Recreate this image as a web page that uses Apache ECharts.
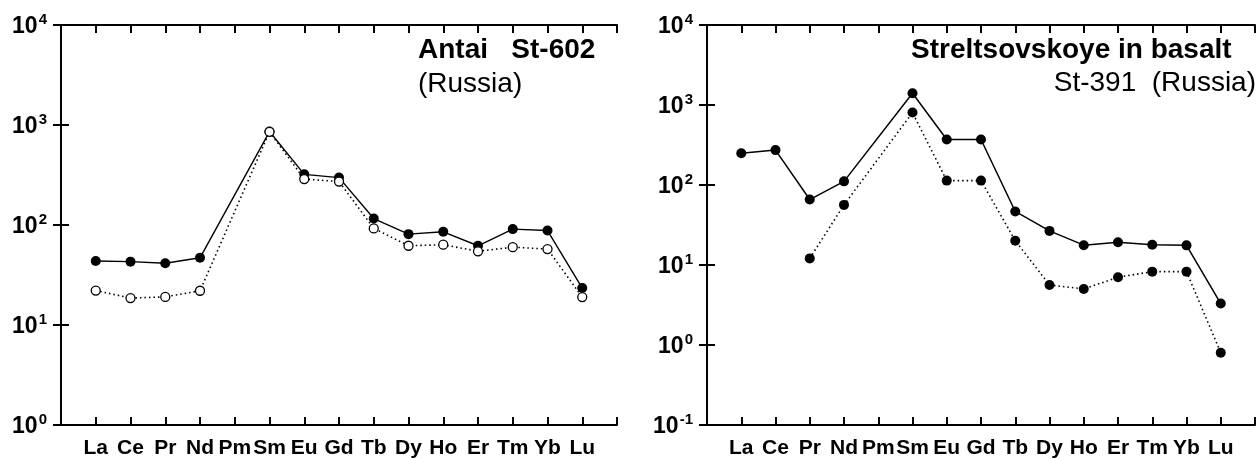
<!DOCTYPE html>
<html>
<head>
<meta charset="utf-8">
<script src="https://cdn.jsdelivr.net/npm/echarts@6/dist/echarts.min.js"></script>
<style>
html,body{margin:0;padding:0;background:#fff;overflow:hidden;}
#c{width:1258px;height:459px;}
</style>
</head>
<body>
<div id="c"></div>
<script>
const elements = ['La','Ce','Pr','Nd','Pm','Sm','Eu','Gd','Tb','Dy','Ho','Er','Tm','Yb','Lu'];
const antaiFilled = [43.7, 43, 41.4, 47, null, 860, 321, 298, 116, 81, 85.5, 62, 91, 88, 23.4];
const antaiOpen   = [22.1, 18.6, 19.1, 22, null, 855, 288, 272, 92.5, 62, 63.5, 54.6, 60, 57.5, 19];
const strelSolid  = [250, 273, 65.8, 111, null, 1400, 371, 371, 46.7, 26.7, 17.7, 19.2, 17.9, 17.6, 3.3];
const strelDotted = [null, null, 12.1, 56.4, null, 804, 113.5, 113.5, 20.1, 5.63, 5.02, 7.03, 8.26, 8.26, 0.80];
const leftTitle = 'Antai   St-602';
const leftSub = '(Russia)';
const rightTitle = 'Streltsovskoye in basalt';
const rightSub = 'St-391  (Russia)';

const FONT = '"Liberation Sans", Arial, Helvetica, sans-serif';

function pts(vals) {
  const out = [];
  vals.forEach((v, i) => { if (v !== null) out.push([i + 1, v]); });
  return out;
}

const lineAxis = { lineStyle: { color: '#000', width: 2 } };
const tickIn = { inside: true, length: 8, lineStyle: { color: '#000', width: 2 } };

function xAxes(gi) {
  return [
    { gridIndex: gi, type: 'value', position: 'bottom', min: 0, max: 16, interval: 1,
      axisLine: lineAxis, axisTick: tickIn, splitLine: { show: false },
      axisLabel: { margin: 13, color: '#000', fontFamily: FONT, fontWeight: 'bold', fontSize: 21,
        formatter: v => (v >= 1 && v <= 15) ? elements[v - 1] : '' } },
    { gridIndex: gi, type: 'value', position: 'top', min: 0, max: 16, interval: 1,
      axisLine: lineAxis, axisTick: tickIn, splitLine: { show: false }, axisLabel: { show: false } }
  ];
}
function yAxes(gi, min, max) {
  return [
    { gridIndex: gi, type: 'log', logBase: 10, min: min, max: max, position: 'left',
      axisLine: lineAxis, axisTick: tickIn, splitLine: { show: false }, minorTick: { show: false },
      axisLabel: { margin: 14, color: '#000',
        formatter: v => '{b|10}{s|' + Math.round(Math.log10(v)) + '}',
        rich: {
          b: { fontFamily: FONT, fontWeight: 'bold', fontSize: 23, lineHeight: 26, verticalAlign: 'bottom' },
          s: { fontFamily: FONT, fontWeight: 'bold', fontSize: 15, lineHeight: 26, verticalAlign: 'top', padding: [0, 0, 0, 1] }
        } } },
    { gridIndex: gi, type: 'log', logBase: 10, min: min, max: max, position: 'right',
      axisLine: lineAxis, axisTick: tickIn, splitLine: { show: false }, axisLabel: { show: false } }
  ];
}

const chart = echarts.init(document.getElementById('c'), null, { renderer: 'canvas' });
chart.setOption({
  backgroundColor: '#fff',
  animation: false,
  grid: [
    { left: 61, top: 25, width: 556, height: 402 },
    { left: 707, top: 25, width: 558, height: 401 }
  ],
  xAxis: [...xAxes(0), ...xAxes(1)],
  yAxis: [...yAxes(0, 1, 10000), ...yAxes(1, 0.1, 10000)],
  series: [
    { type: 'line', xAxisIndex: 0, yAxisIndex: 0, data: pts(antaiFilled), symbol: 'circle', symbolSize: 10,
      itemStyle: { color: '#000' }, lineStyle: { color: '#000', width: 1.4 }, z: 2 },
    { type: 'line', xAxisIndex: 0, yAxisIndex: 0, data: pts(antaiOpen), symbol: 'circle', symbolSize: 9,
      itemStyle: { color: '#fff', borderColor: '#000', borderWidth: 1.3 },
      lineStyle: { color: '#000', width: 1.6, type: [1.5, 3] }, z: 3 },
    { type: 'line', xAxisIndex: 2, yAxisIndex: 2, data: pts(strelSolid), symbol: 'circle', symbolSize: 10,
      itemStyle: { color: '#000' }, lineStyle: { color: '#000', width: 1.5 }, z: 2 },
    { type: 'line', xAxisIndex: 2, yAxisIndex: 2, data: pts(strelDotted), symbol: 'circle', symbolSize: 10,
      itemStyle: { color: '#000' }, lineStyle: { color: '#000', width: 1.6, type: [1.5, 3] }, z: 3 }
  ],
  graphic: [
    { type: 'text', left: 418, top: 36, style: { text: leftTitle, fill: '#000', font: 'bold 28px ' + FONT } },
    { type: 'text', left: 418, top: 70, style: { text: leftSub, fill: '#000', font: '28px ' + FONT } },
    { type: 'text', left: 911, top: 36, style: { text: rightTitle, fill: '#000', font: 'bold 28px ' + FONT } },
    { type: 'text', right: 2, top: 69, style: { text: rightSub, fill: '#000', font: '28px ' + FONT } }
  ]
});
</script>
</body>
</html>
